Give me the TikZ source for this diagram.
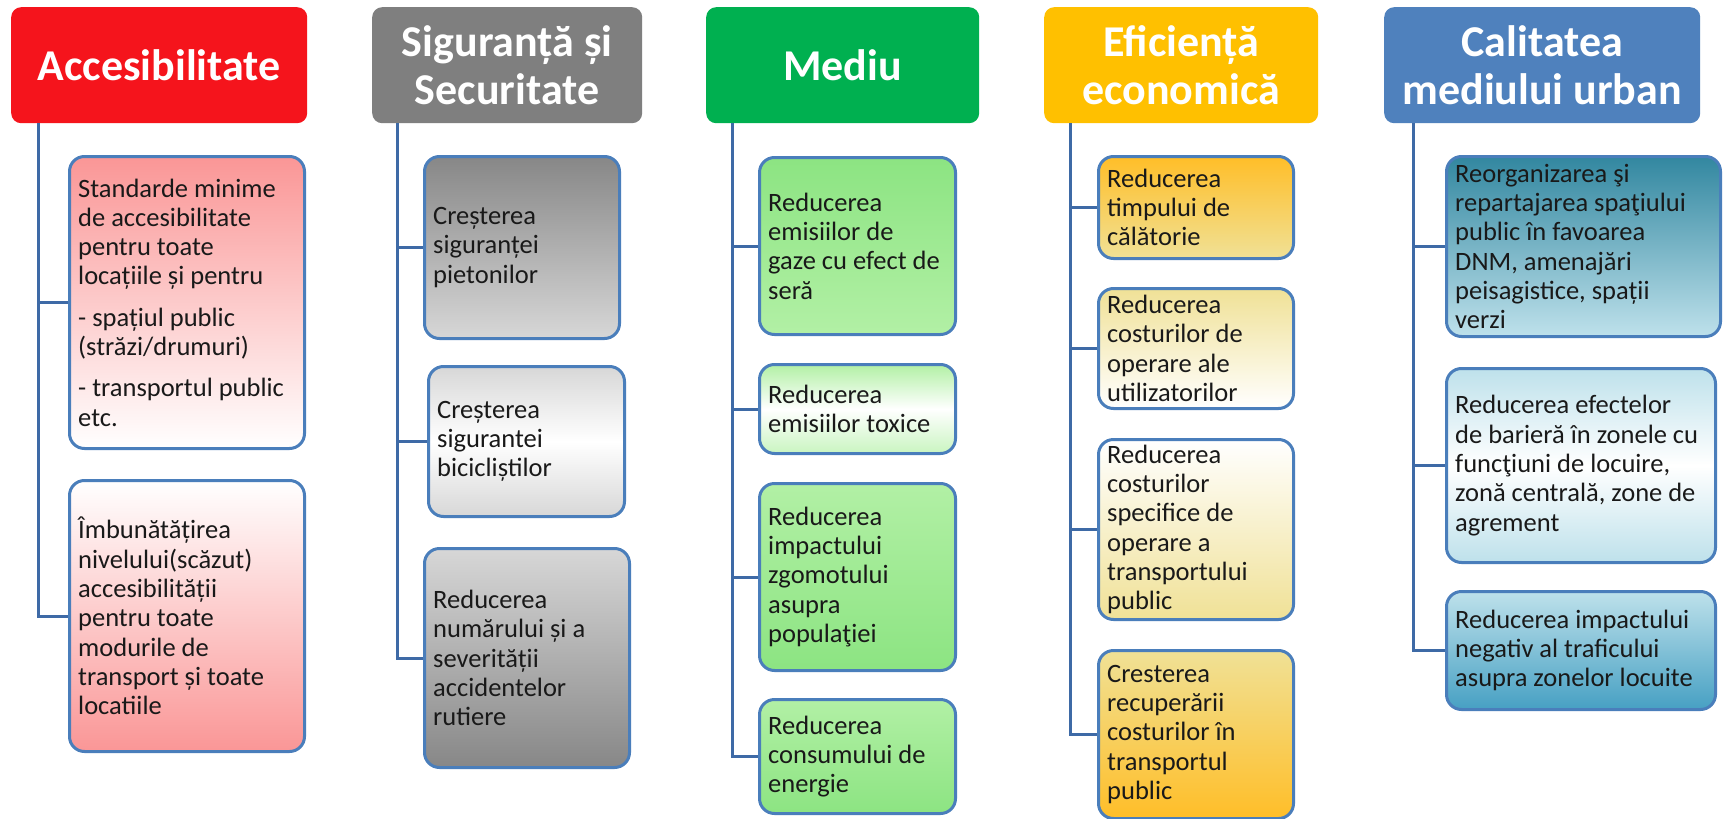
\documentclass[tikz,border=0pt]{standalone}
\usepackage{fontspec}
\setmainfont{Carlito}
\definecolor{bord}{RGB}{74,126,187}
\definecolor{conn}{RGB}{62,106,166}
\definecolor{hred}{RGB}{245,20,28}
\definecolor{hgray}{RGB}{127,127,127}
\definecolor{hgreen}{RGB}{0,176,80}
\definecolor{hgold}{RGB}{255,192,0}
\definecolor{hblue}{RGB}{79,129,189}
\definecolor{pinkA}{RGB}{250,150,150}
\definecolor{grayD}{RGB}{135,135,135}
\definecolor{grayL}{RGB}{215,215,215}
\definecolor{greenA}{RGB}{140,228,130}
\definecolor{greenB}{RGB}{178,240,165}
\definecolor{orangeA}{RGB}{255,190,40}
\definecolor{yellowA}{RGB}{240,225,150}
\definecolor{tealA}{RGB}{50,135,160}
\definecolor{tealB}{RGB}{190,225,235}
\definecolor{tealC}{RGB}{70,160,195}
\tikzset{
  hdr/.style={rounded corners=10pt, anchor=north west, inner sep=0pt, align=center,
     text=white, font=\fontsize{44}{48}\selectfont\bfseries},
  child/.style={draw=bord, line width=3pt, rounded corners=15pt, anchor=north west,
     inner sep=0pt},
  ctext/.style={inner sep=0pt, align=left, text=black!90,
     font=\fontsize{26.5}{29.3}\selectfont},
  link/.style={draw=conn, line width=3pt},
}
\newcommand{\cnode}[7]{%
  \node[child,#6,minimum width=#4pt,minimum height=#5pt] (#1) at (#2,#3) {};
  \path (#1.west) ++(10,0) node[ctext, anchor=west] (#1t) {#7};}
\begin{document}
\begin{tikzpicture}[x=1pt,y=-1pt]
\useasboundingbox (0,0) rectangle (1725,819);
\fill[white] (0,0) rectangle (1725,819);
% headers
\node[hdr, fill=hred, minimum width=296pt, minimum height=116pt] (h1) at (11,7) {Accesibilitate};
\node[hdr, fill=hgray, minimum width=270pt, minimum height=116pt] (h2) at (372,7) {Siguranță și\\Securitate};
\node[hdr, fill=hgreen, minimum width=273pt, minimum height=116pt] (h3) at (706,7) {Mediu};
\node[hdr, fill=hgold, minimum width=274pt, minimum height=116pt] (h4) at (1044,7) {Eficiență\\economică};
\node[hdr, fill=hblue, minimum width=316pt, minimum height=116pt] (h5) at (1384,7) {Calitatea\\mediului urban};
% spine start points
\coordinate (v1) at (38,123);
\coordinate (v2) at (397,123);
\coordinate (v3) at (732,123);
\coordinate (v4) at (1070,123);
\coordinate (v5) at (1413,123);
% column 1
\cnode{c11}{68}{155}{235}{292}{top color=pinkA, bottom color=white}{Standarde minime\\de accesibilitate\\pentru toate\\locațiile și pentru\\[12pt]- spațiul public\\(străzi/drumuri)\\[12pt]- transportul public\\etc.}
\cnode{c12}{68}{479}{235}{271}{top color=white, bottom color=pinkA}{Îmbunătățirea\\nivelului(scăzut)\\accesibilității\\pentru toate\\modurile de\\transport și toate\\locatiile}
% column 2
\cnode{c21}{423}{155}{195}{182}{top color=grayD, bottom color=grayL}{Creșterea\\siguranței\\pietonilor}
\cnode{c22}{427}{365}{196}{150}{top color=grayL, bottom color=grayL, middle color=white}{Creșterea\\sigurantei\\bicicliștilor}
\cnode{c23}{423}{547}{205}{219}{top color=grayL, bottom color=grayD}{Reducerea\\numărului și a\\severității\\accidentelor\\rutiere}
% column 3
\cnode{c31}{758}{156}{196}{177}{top color=greenA, bottom color=greenB}{Reducerea\\emisiilor de\\gaze cu efect de\\seră}
\cnode{c32}{758}{363}{196}{89}{top color=greenB, bottom color=greenB!70, middle color=white}{Reducerea\\emisiilor toxice}
\cnode{c33}{758}{482}{196}{187}{top color=greenB, bottom color=greenA}{Reducerea\\impactului\\zgomotului\\asupra\\populaţiei}
\cnode{c34}{758}{698}{196}{114}{top color=greenB, bottom color=greenA}{Reducerea\\consumului de\\energie}
% column 4
\cnode{c41}{1097}{155}{195}{102}{top color=orangeA, bottom color=yellowA}{Reducerea\\timpului de\\călătorie}
\cnode{c42}{1097}{287}{195}{120}{top color=yellowA, bottom color=white}{Reducerea\\costurilor de\\operare ale\\utilizatorilor}
\cnode{c43}{1097}{438}{195}{180}{top color=white, bottom color=yellowA}{Reducerea\\costurilor\\specifice de\\operare a\\transportului\\public}
\cnode{c44}{1097}{649}{195}{168}{top color=yellowA, bottom color=orangeA}{Cresterea\\recuperării\\costurilor în\\transportul\\public}
% column 5
\cnode{c51}{1445}{155}{274}{180}{top color=tealA, bottom color=tealB}{Reorganizarea şi\\repartajarea spaţiului\\public în favoarea\\DNM, amenajări\\peisagistice, spații\\verzi}
\cnode{c52}{1445}{367}{269}{194}{top color=tealB, bottom color=tealB, middle color=white}{Reducerea efectelor\\de barieră în zonele cu\\funcţiuni de locuire,\\zonă centrală, zone de\\agrement}
\cnode{c53}{1445}{590}{269}{118}{top color=tealB, bottom color=tealC}{Reducerea impactului\\negativ al traficului\\asupra zonelor locuite}
% connectors
\foreach \v/\c in {v1/c11,v1/c12,v2/c21,v2/c22,v2/c23,v3/c31,v3/c32,v3/c33,v3/c34,v4/c41,v4/c42,v4/c43,v4/c44,v5/c51,v5/c52,v5/c53}
  \draw[link] (\v) |- (\c.west);
\end{tikzpicture}
\end{document}
